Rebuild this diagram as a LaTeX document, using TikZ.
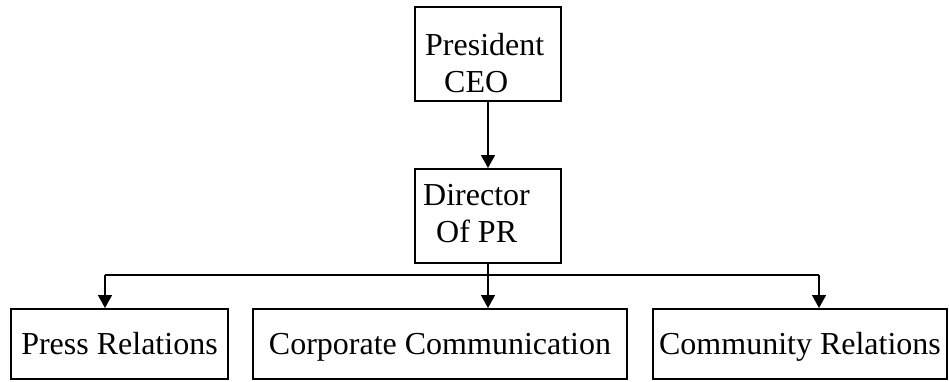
\documentclass[tikz,border=0pt]{standalone}
\usepackage{fontspec}
\setmainfont{Liberation Serif}
\usetikzlibrary{arrows.meta,positioning}
\tikzset{box/.style={draw,line width=2pt,inner sep=0pt},
  topbox/.style={box,minimum width=146,minimum height=94},
  lowbox/.style={box,minimum height=70,text height=28pt,text depth=7pt},
  words/.style={inner sep=0pt,align=left,anchor=base west},
  link/.style={line width=1.5pt,-{Triangle[width=14pt,length=13pt]}}}

\begin{document}
\begin{tikzpicture}[x=1pt,y=-1pt,font=\fontsize{32}{37}\selectfont]
  \useasboundingbox (0,0) rectangle (949,381);

  \node[topbox] (pres) at (488,54) {};
  \node[topbox] (dir) [below=66pt of pres] {};
  \node[words] (presT) at (425,92) {President\\\hspace*{19pt}CEO};
  \node[words] (dirT) at (423,242) {Director\\\hspace*{13pt}Of PR};

  \node[lowbox,minimum width=217] (press) at (119.5,344) {Press Relations};
  \node[lowbox,minimum width=374] (corp) at (440,344) {Corporate Communication};
  \node[lowbox,minimum width=294] (comm) at (800,344) {Community Relations};

  \coordinate (busL) at (105,275);
  \coordinate (busR) at (819,275);

  \draw[link] (pres.south) -- (dir.north);
  \draw[link] (dir.south) -- (dir.south |- corp.north);
  \draw[line width=1.5pt] (busL) -- (busR);
  \draw[link] (busL) -- (busL |- press.north);
  \draw[link] (busR) -- (busR |- comm.north);
\end{tikzpicture}
\end{document}
